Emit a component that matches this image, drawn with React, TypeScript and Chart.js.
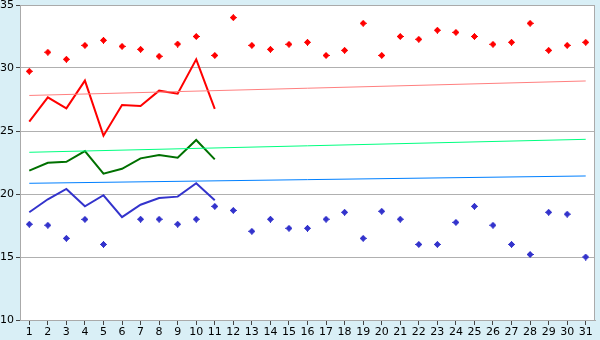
import React, { useEffect, useRef } from "react";
import { Chart, registerables } from "chart.js";

Chart.register(...registerables);

const days = Array.from({ length: 31 }, (_, i) => String(i + 1));

const maxPoints = [29.74, 31.25, 30.69, 31.8, 32.2, 31.72, 31.48, 30.93, 31.9, 32.5, 31.0, 34.0, 31.8, 31.48, 31.88, 32.04, 31.0, 31.4, 33.55, 31.0, 32.5, 32.28, 33.0, 32.83, 32.5, 31.88, 32.04, 33.55, 31.4, 31.8, 32.04];
const minPoints = [17.6, 17.52, 16.48, 17.99, 16.0, null, 18.0, 18.0, 17.6, 18.0, 19.02, 18.7, 17.04, 18.0, 17.28, 17.28, 18.0, 18.55, 16.48, 18.63, 18.0, 16.0, 16.0, 17.75, 19.02, 17.52, 16.0, 15.2, 18.55, 18.4, 15.0];
const maxLine = [25.74, 27.67, 26.8, 29.0, 24.63, 27.06, 26.98, 28.2, 27.96, 30.69, 26.75];
const meanLine = [21.85, 22.48, 22.56, 23.41, 21.61, 22.0, 22.83, 23.1, 22.88, 24.29, 22.75];
const minLine = [18.55, 19.58, 20.4, 19.02, 19.9, 18.17, 19.15, 19.68, 19.79, 20.85, 19.5];
const maxTrendEnds = [27.82, 28.97];
const meanTrendEnds = [23.31, 24.34];
const minTrendEnds = [20.85, 21.43];
const yTicks = [10, 15, 20, 25, 30, 35];

function ends(pair: number[]) {
  const arr: (number | null)[] = new Array(days.length).fill(null);
  arr[0] = pair[0];
  arr[days.length - 1] = pair[1];
  return arr;
}

function crossMarker(color: string) {
  const c = document.createElement("canvas");
  c.width = 7;
  c.height = 7;
  const ctx = c.getContext("2d")!;
  ctx.fillStyle = color;
  ctx.fillRect(1, 2, 5, 3);
  ctx.fillRect(2, 1, 3, 5);
  ctx.fillRect(0, 3, 7, 1);
  ctx.fillRect(3, 0, 1, 7);
  return c;
}

export default function App() {
  const ref = useRef<HTMLCanvasElement>(null);
  useEffect(() => {
    document.body.style.margin = "0";
    const redMark = crossMarker("#ff0000");
    const blueMark = crossMarker("#3333cc");
    const bgPlugin = {
      id: "bg",
      beforeDraw(chart: any) {
        const { ctx, chartArea } = chart;
        ctx.save();
        ctx.fillStyle = "#d9eff6";
        ctx.fillRect(0, 0, chart.width, chart.height);
        ctx.fillStyle = "#ffffff";
        ctx.fillRect(chartArea.left, chartArea.top, chartArea.right - chartArea.left, chartArea.bottom - chartArea.top);
        ctx.restore();
      },
      afterDraw(chart: any) {
        const { ctx, chartArea } = chart;
        ctx.save();
        ctx.strokeStyle = "#aaaaaa";
        ctx.lineWidth = 1;
        ctx.strokeRect(chartArea.left + 0.5, chartArea.top + 0.5, chartArea.right - chartArea.left - 1, chartArea.bottom - chartArea.top);
        ctx.restore();
      },
    };
    const chart = new Chart(ref.current!, {
      type: "line",
      data: {
        labels: days,
        datasets: [
          { data: ends(maxTrendEnds), borderColor: "#ff8080", borderWidth: 1, pointRadius: 0, spanGaps: true },
          { data: ends(meanTrendEnds), borderColor: "#00ff80", borderWidth: 1, pointRadius: 0, spanGaps: true },
          { data: ends(minTrendEnds), borderColor: "#0080ff", borderWidth: 1, pointRadius: 0, spanGaps: true },
          { data: maxLine, borderColor: "#ff0000", borderWidth: 2, pointRadius: 0 },
          { data: meanLine, borderColor: "#007000", borderWidth: 2, pointRadius: 0 },
          { data: minLine, borderColor: "#3333cc", borderWidth: 2, pointRadius: 0 },
          { data: maxPoints, showLine: false, pointStyle: redMark as any, pointRadius: 4, borderWidth: 0 },
          { data: minPoints, showLine: false, pointStyle: blueMark as any, pointRadius: 4, borderWidth: 0 },
        ],
      },
      options: {
        responsive: false,
        animation: false,
        events: [],
        layout: { padding: { top: 0, right: 5, left: 0, bottom: 0 } },
        plugins: { legend: { display: false }, tooltip: { enabled: false } },
        scales: {
          x: {
            offset: true,
            grid: { drawOnChartArea: false, drawTicks: true, tickLength: 5, tickColor: "#444444", offset: false },
            border: { display: true, color: "#aaaaaa" },
            ticks: { color: "#000000", font: { family: "DejaVu Sans", size: 11 }, padding: 1, maxRotation: 0, autoSkip: false },
            afterFit(s: any) { s.height = 20; s.paddingLeft = 0; s.paddingRight = 0; },
          } as any,
          y: {
            min: 10,
            max: 35,
            afterBuildTicks(s: any) { s.ticks = yTicks.map((v) => ({ value: v })); },
            grid: { color: "#b0b0b0", tickColor: "#444444", tickLength: 4, drawTicks: true },
            border: { display: true, color: "#aaaaaa" },
            ticks: { color: "#000000", font: { family: "DejaVu Sans", size: 11 }, padding: 2 },
            afterFit(s: any) { s.width = 20; s.paddingTop = 5; s.paddingBottom = 0; },
          } as any,
        },
      },
      plugins: [bgPlugin],
    });
    return () => chart.destroy();
  }, []);
  return (
    <div style={{ position: "absolute", left: 0, top: 0, width: 600, height: 340 }}>
      <canvas ref={ref} width={600} height={340} />
    </div>
  );
}
